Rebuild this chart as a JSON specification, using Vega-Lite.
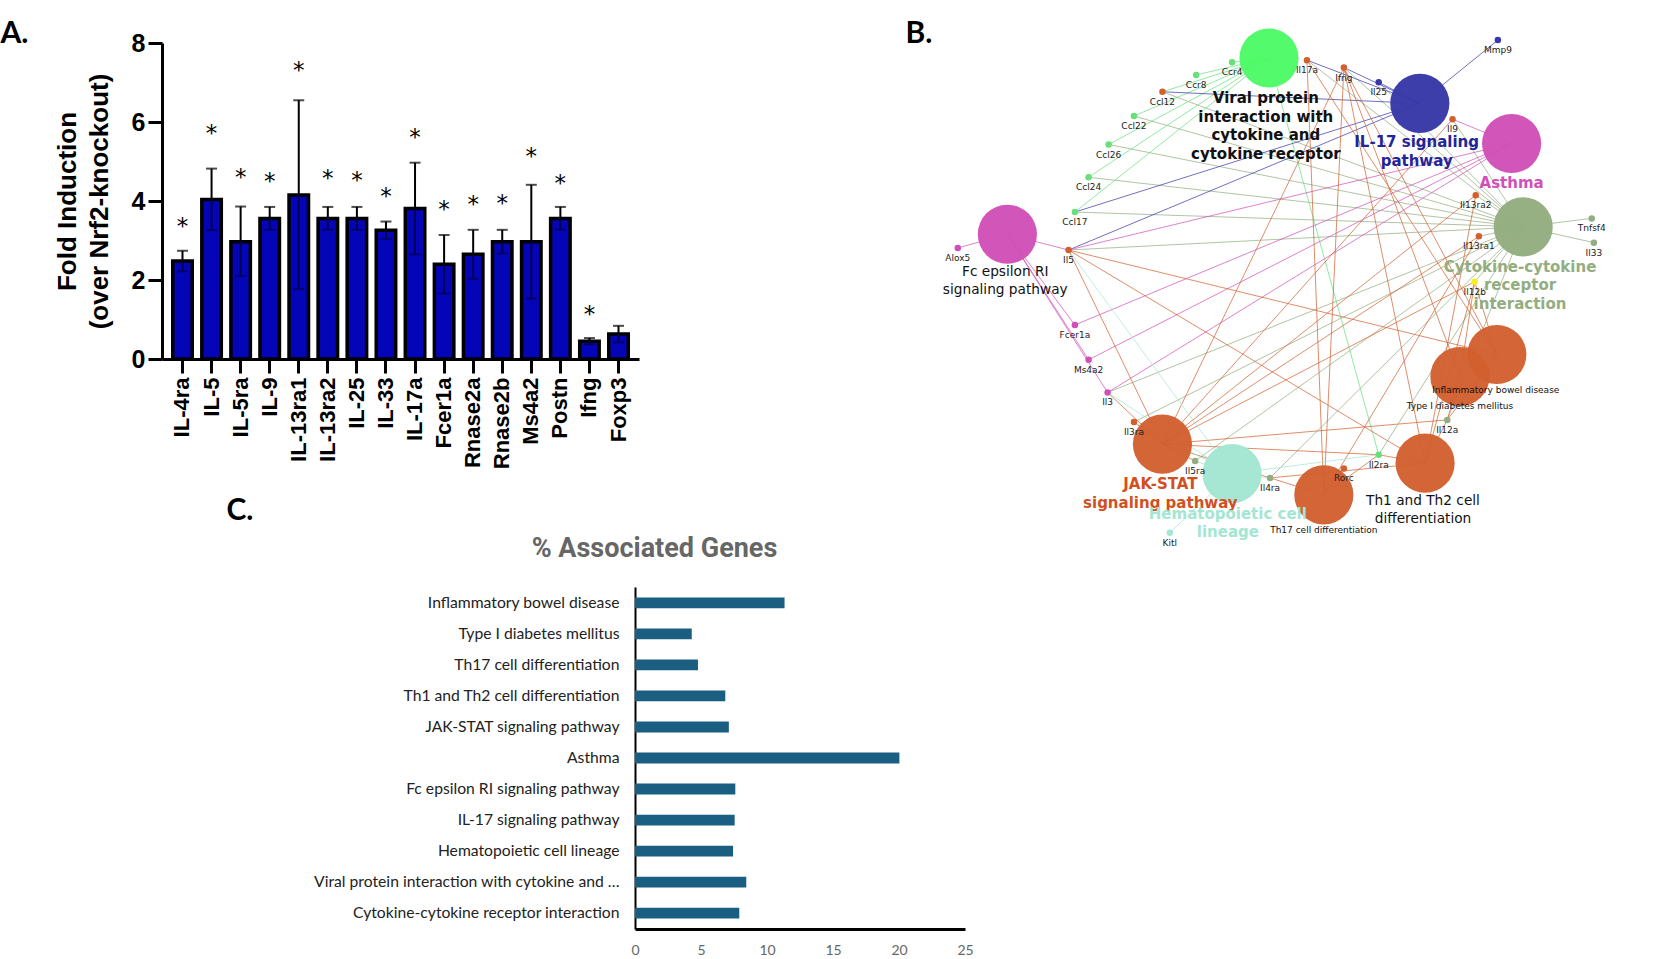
{
"$schema":"https://vega.github.io/schema/vega-lite/v6.json",
"width":1654,"height":959,"autosize":{"type":"none"},"padding":0,"background":"white",
"config":{"view":{"stroke":null},"axis":{"grid":false,"labelOverlap":false},"text":{"lineBreak":"\n"}},
"datasets":{
"genes":[
{"gene":"IL-4ra","value":2.48,"low":2.22,"high":2.74,"star":3.43},
{"gene":"IL-5","value":4.04,"low":3.26,"high":4.82,"star":5.77},
{"gene":"IL-5ra","value":2.97,"low":2.1,"high":3.86,"star":4.67},
{"gene":"IL-9","value":3.56,"low":3.27,"high":3.85,"star":4.56},
{"gene":"IL-13ra1","value":4.15,"low":1.77,"high":6.55,"star":7.37},
{"gene":"IL-13ra2","value":3.56,"low":3.27,"high":3.85,"star":4.63},
{"gene":"IL-25","value":3.56,"low":3.27,"high":3.85,"star":4.57},
{"gene":"IL-33","value":3.26,"low":3.04,"high":3.48,"star":4.18},
{"gene":"IL-17a","value":3.81,"low":2.65,"high":4.97,"star":5.66},
{"gene":"Fcer1a","value":2.4,"low":1.66,"high":3.14,"star":3.85},
{"gene":"Rnase2a","value":2.65,"low":2.03,"high":3.27,"star":3.97},
{"gene":"Rnase2b","value":2.97,"low":2.67,"high":3.27,"star":4.0},
{"gene":"Ms4a2","value":2.97,"low":1.53,"high":4.41,"star":5.18},
{"gene":"Postn","value":3.56,"low":3.27,"high":3.85,"star":4.5},
{"gene":"Ifng","value":0.45,"low":0.37,"high":0.53,"star":1.2},
{"gene":"Foxp3","value":0.63,"low":0.42,"high":0.84,"star":null}
],
"pct":[
{"term":"Inflammatory bowel disease","pct":11.33},
{"term":"Type I diabetes mellitus","pct":4.3},
{"term":"Th17 cell differentiation","pct":4.77},
{"term":"Th1 and Th2 cell differentiation","pct":6.84},
{"term":"JAK-STAT signaling pathway","pct":7.11},
{"term":"Asthma","pct":20.03},
{"term":"Fc epsilon RI signaling pathway","pct":7.6},
{"term":"IL-17 signaling pathway","pct":7.55},
{"term":"Hematopoietic cell lineage","pct":7.43},
{"term":"Viral protein interaction with cytokine and cytokine receptor","pct":8.43},
{"term":"Cytokine-cytokine receptor interaction","pct":7.9}
],
"nodes":[
{"name":"Viral","kind":"term","group":"viral","nx":1203,"ny":55},
{"name":"IL17","kind":"term","group":"il17","nx":1346,"ny":98},
{"name":"Asthma","kind":"term","group":"allergy","nx":1433,"ny":136},
{"name":"Cyto","kind":"term","group":"cyto","nx":1444,"ny":215},
{"name":"IBD","kind":"term","group":"immune","nx":1419,"ny":336},
{"name":"T1D","kind":"term","group":"immune","nx":1384,"ny":357},
{"name":"Th12","kind":"term","group":"immune","nx":1351,"ny":439},
{"name":"Th17","kind":"term","group":"immune","nx":1255,"ny":469},
{"name":"Hema","kind":"term","group":"hema","nx":1168,"ny":449},
{"name":"JAK","kind":"term","group":"immune","nx":1102,"ny":421},
{"name":"Fc","kind":"term","group":"allergy","nx":955,"ny":222},
{"name":"Mmp9","kind":"gene","group":"il17","nx":1420,"ny":38},
{"name":"Il17a","kind":"gene","group":"immune","nx":1239,"ny":57},
{"name":"Ifng","kind":"gene","group":"immune","nx":1274,"ny":64},
{"name":"Il25","kind":"gene","group":"il17","nx":1307,"ny":78},
{"name":"Il9","kind":"gene","group":"immune","nx":1377,"ny":113},
{"name":"Ccr4","kind":"gene","group":"viral2","nx":1168,"ny":59},
{"name":"Ccr8","kind":"gene","group":"viral2","nx":1134,"ny":71},
{"name":"Ccl12","kind":"gene","group":"immune","nx":1102,"ny":87},
{"name":"Ccl22","kind":"gene","group":"viral2","nx":1075,"ny":110},
{"name":"Ccl26","kind":"gene","group":"viral2","nx":1051,"ny":137},
{"name":"Ccl24","kind":"gene","group":"viral2","nx":1032,"ny":168},
{"name":"Ccl17","kind":"gene","group":"viral2","nx":1019,"ny":201},
{"name":"Il13ra2","kind":"gene","group":"immune","nx":1399,"ny":185},
{"name":"Il13ra1","kind":"gene","group":"immune","nx":1402,"ny":224},
{"name":"Tnfsf4","kind":"gene","group":"cyto","nx":1509,"ny":207},
{"name":"Il33","kind":"gene","group":"cyto","nx":1511,"ny":230},
{"name":"Il12b","kind":"gene","group":"yellow","nx":1398,"ny":267},
{"name":"Il5","kind":"gene","group":"immune","nx":1013,"ny":237},
{"name":"Alox5","kind":"gene","group":"allergy","nx":908,"ny":235},
{"name":"Fcer1a","kind":"gene","group":"allergy","nx":1019,"ny":308},
{"name":"Ms4a2","kind":"gene","group":"allergy","nx":1032,"ny":341},
{"name":"Il3","kind":"gene","group":"allergy","nx":1050,"ny":372},
{"name":"Il3ra","kind":"gene","group":"immune","nx":1075,"ny":400},
{"name":"Il12a","kind":"gene","group":"cyto","nx":1372,"ny":398},
{"name":"Il5ra","kind":"gene","group":"cyto","nx":1133,"ny":437},
{"name":"Il2ra","kind":"gene","group":"viral2","nx":1307,"ny":431},
{"name":"Rorc","kind":"gene","group":"immune","nx":1274,"ny":444},
{"name":"Il4ra","kind":"gene","group":"cyto","nx":1204,"ny":453},
{"name":"Kitl","kind":"gene","group":"hema","nx":1109,"ny":505}
],
"termLabels":[
{"text":"Viral protein\ninteraction with\ncytokine and\ncytokine receptor","group":"black","nx":1200,"ny":93,"big":"a"},
{"text":"IL-17 signaling\npathway","group":"navy","nx":1343,"ny":135,"big":"a"},
{"text":"Asthma","group":"allergy","nx":1433,"ny":173,"big":"a"},
{"text":"Cytokine-cytokine\nreceptor\ninteraction","group":"cyto","nx":1441,"ny":253,"big":"a"},
{"text":"Fc epsilon RI\nsignaling pathway","group":"black","nx":953,"ny":258,"big":"b"},
{"text":"Th1 and Th2 cell\ndifferentiation","group":"black","nx":1349,"ny":475,"big":"b"},
{"text":"JAK-STAT\nsignaling pathway","group":"jak","nx":1100,"ny":459,"big":"a"},
{"text":"Hematopoietic cell\nlineage","group":"hema","nx":1164,"ny":487,"big":"a"},
{"text":"Inflammatory bowel disease","group":"black","nx":1418,"ny":370,"big":"c"},
{"text":"Type I diabetes mellitus","group":"black","nx":1384,"ny":385,"big":"c"},
{"text":"Th17 cell differentiation","group":"black","nx":1255,"ny":502,"big":"c"}
],
"edges":[
{"g":"Ccl12","t":"Cyto","group":"cyto"},{"g":"Ccl22","t":"Cyto","group":"cyto"},{"g":"Ccl26","t":"Cyto","group":"cyto"},{"g":"Ccl24","t":"Cyto","group":"cyto"},{"g":"Ccl17","t":"Cyto","group":"cyto"},{"g":"Il5","t":"Cyto","group":"cyto"},{"g":"Il3","t":"Cyto","group":"cyto"},{"g":"Il5ra","t":"Cyto","group":"cyto"},{"g":"Il2ra","t":"Cyto","group":"cyto"},{"g":"Il4ra","t":"Cyto","group":"cyto"},{"g":"Il13ra1","t":"Cyto","group":"cyto"},{"g":"Il13ra2","t":"Cyto","group":"cyto"},{"g":"Tnfsf4","t":"Cyto","group":"cyto"},{"g":"Il33","t":"Cyto","group":"cyto"},{"g":"Il12a","t":"Cyto","group":"cyto"},{"g":"Il12b","t":"Cyto","group":"cyto"},{"g":"Il17a","t":"Cyto","group":"cyto"},{"g":"Ifng","t":"Cyto","group":"cyto"},{"g":"Il25","t":"Cyto","group":"cyto"},{"g":"Il9","t":"Cyto","group":"cyto"},{"g":"Il3ra","t":"Cyto","group":"cyto"},
{"g":"Ccr4","t":"Viral","group":"viral2"},{"g":"Ccr8","t":"Viral","group":"viral2"},{"g":"Ccl12","t":"Viral","group":"viral2"},{"g":"Ccl22","t":"Viral","group":"viral2"},{"g":"Ccl26","t":"Viral","group":"viral2"},{"g":"Ccl24","t":"Viral","group":"viral2"},{"g":"Ccl17","t":"Viral","group":"viral2"},{"g":"Il2ra","t":"Viral","group":"viral2"},
{"g":"Il17a","t":"IL17","group":"il17"},{"g":"Ifng","t":"IL17","group":"il17"},{"g":"Il25","t":"IL17","group":"il17"},{"g":"Ccl12","t":"IL17","group":"il17"},{"g":"Ccl17","t":"IL17","group":"il17"},{"g":"Il5","t":"IL17","group":"il17"},{"g":"Mmp9","t":"IL17","group":"il17"},
{"g":"Il9","t":"Asthma","group":"allergy"},{"g":"Il5","t":"Asthma","group":"allergy"},{"g":"Il3","t":"Asthma","group":"allergy"},{"g":"Ms4a2","t":"Asthma","group":"allergy"},{"g":"Fcer1a","t":"Asthma","group":"allergy"},
{"g":"Alox5","t":"Fc","group":"allergy"},{"g":"Il5","t":"Fc","group":"allergy"},{"g":"Il3","t":"Fc","group":"allergy"},{"g":"Fcer1a","t":"Fc","group":"allergy"},{"g":"Ms4a2","t":"Fc","group":"allergy"},
{"g":"Il3","t":"JAK","group":"immune"},{"g":"Il3ra","t":"JAK","group":"immune"},{"g":"Il5","t":"JAK","group":"immune"},{"g":"Il5ra","t":"JAK","group":"immune"},{"g":"Il4ra","t":"JAK","group":"immune"},{"g":"Il2ra","t":"JAK","group":"immune"},{"g":"Il12a","t":"JAK","group":"immune"},{"g":"Il12b","t":"JAK","group":"immune"},{"g":"Il13ra1","t":"JAK","group":"immune"},{"g":"Il13ra2","t":"JAK","group":"immune"},{"g":"Ifng","t":"JAK","group":"immune"},{"g":"Il9","t":"JAK","group":"immune"},
{"g":"Il5","t":"IBD","group":"immune"},{"g":"Il17a","t":"IBD","group":"immune"},{"g":"Ifng","t":"IBD","group":"immune"},{"g":"Il12a","t":"IBD","group":"immune"},{"g":"Il12b","t":"IBD","group":"immune"},
{"g":"Ifng","t":"T1D","group":"immune"},{"g":"Il12a","t":"T1D","group":"immune"},{"g":"Il12b","t":"T1D","group":"immune"},
{"g":"Ifng","t":"Th12","group":"immune"},{"g":"Il5","t":"Th12","group":"immune"},{"g":"Il4ra","t":"Th12","group":"immune"},{"g":"Il2ra","t":"Th12","group":"immune"},{"g":"Il12a","t":"Th12","group":"immune"},{"g":"Il12b","t":"Th12","group":"immune"},{"g":"Il13ra2","t":"Th12","group":"immune"},
{"g":"Il17a","t":"Th17","group":"immune"},{"g":"Ifng","t":"Th17","group":"immune"},{"g":"Il2ra","t":"Th17","group":"immune"},{"g":"Il4ra","t":"Th17","group":"immune"},{"g":"Rorc","t":"Th17","group":"immune"},{"g":"Il13ra1","t":"Th17","group":"immune"},
{"g":"Il3","t":"Hema","group":"hema"},{"g":"Il3ra","t":"Hema","group":"hema"},{"g":"Il5","t":"Hema","group":"hema"},{"g":"Il5ra","t":"Hema","group":"hema"},{"g":"Il4ra","t":"Hema","group":"hema"},{"g":"Il2ra","t":"Hema","group":"hema"},{"g":"Kitl","t":"Hema","group":"hema"}
]
},
"layer":[
{
"data":{"name":"genes"},
"encoding":{
"x":{"field":"gene","type":"nominal","sort":null,"title":"A.",
"scale":{"type":"band","range":[162,639],"paddingInner":0.33,"paddingOuter":0.37},
"axis":{"orient":"bottom","offset":-600,"domainWidth":3,"domainColor":"black","tickWidth":3,"tickColor":"black","tickSize":14,"labelAngle":-90,"labelAlign":"right","labelBaseline":"middle","labelFont":"Liberation Sans","labelFontWeight":"bold","labelFontSize":22,"labelColor":"black","labelPadding":4,"titleFont":"Lato","titleFontWeight":"bold","titleFontSize":30,"titleColor":"black","titleX":0,"titleY":-326,"titleAlign":"left","titleBaseline":"middle","titleAngle":0}}
},
"layer":[
{"mark":{"type":"bar","fill":"#0505b8","stroke":"black","strokeWidth":3.5},
"encoding":{"y":{"field":"value","type":"quantitative","title":["Fold Induction","(over Nrf2-knockout)"],
"scale":{"domain":[0,8],"range":[359,43],"nice":false,"zero":true},
"axis":{"orient":"left","offset":-162,"values":[0,2,4,6,8],"format":"d","domainWidth":3,"domainColor":"black","tickWidth":3,"tickColor":"black","tickSize":14,"labelFont":"Liberation Sans","labelFontWeight":"bold","labelFontSize":25,"labelColor":"black","labelPadding":3,"titleFont":"Liberation Sans","titleFontWeight":"bold","titleFontSize":26,"titleColor":"black","titleX":-82,"titleY":201,"titleLineHeight":32}}}},
{"mark":{"type":"rule","color":"black","strokeWidth":2},"encoding":{"y":{"field":"value","type":"quantitative"},"y2":{"field":"high"}}},
{"mark":{"type":"rule","color":"#000050","strokeWidth":2},"encoding":{"y":{"field":"low","type":"quantitative"},"y2":{"field":"value"}}},
{"mark":{"type":"tick","color":"black","thickness":2,"size":11},"encoding":{"y":{"field":"high","type":"quantitative"}}},
{"mark":{"type":"tick","color":"#000050","thickness":2,"size":11},"encoding":{"y":{"field":"low","type":"quantitative"}}},
{"transform":[{"filter":"datum.star != null"}],"mark":{"type":"text","text":"*","font":"DejaVu Sans","fontSize":23,"color":"black","dy":3},"encoding":{"y":{"field":"star","type":"quantitative"}}}
]
},
{
"data":{"name":"pct"},
"mark":{"type":"bar","fill":"#1a5e82"},
"encoding":{
"x":{"field":"pct","type":"quantitative","title":"% Associated Genes",
"scale":{"domain":[0,25],"range":[635,965],"nice":false},
"axis":{"orient":"bottom","offset":-30,"values":[0,5,10,15,20,25],"labelFlush":false,"domainWidth":3,"domainColor":"black","ticks":false,"labelFont":"Lato","labelFontSize":14,"labelColor":"#666666","labelPadding":14,"titleFont":"Roboto","titleFontWeight":"bold","titleFontSize":27,"titleColor":"#666666","titleX":654,"titleY":-381,"titleAlign":"center","titleBaseline":"middle"}},
"y":{"field":"term","type":"nominal","sort":null,"title":"C.",
"scale":{"type":"band","range":[587,929],"paddingInner":0.65,"paddingOuter":0.335},
"axis":{"orient":"left","offset":-635,"domainWidth":2,"domainColor":"black","ticks":false,"labelFont":"Lato","labelFontSize":15.7,"labelColor":"#222222","labelPadding":16,"labelLimit":306,"titleFont":"Lato","titleFontWeight":"bold","titleFontSize":30,"titleColor":"black","titleX":-409,"titleY":510,"titleAngle":0,"titleAlign":"left","titleBaseline":"middle"}}
}
},
{
"encoding":{
"x":{"field":"nx","type":"quantitative","title":"B.",
"scale":{"domain":[0,1568],"range":[0,1654],"nice":false,"zero":false},
"axis":{"orient":"top","offset":0,"domain":false,"ticks":false,"labels":false,"titleFont":"Lato","titleFontWeight":"bold","titleFontSize":30,"titleColor":"black","titleX":905,"titleY":33,"titleAlign":"left","titleBaseline":"middle","titleAngle":0}},
"y":{"field":"ny","type":"quantitative",
"scale":{"domain":[0,909],"range":[0,959],"nice":false,"zero":false},"axis":null},
"color":{"field":"group","type":"nominal","legend":null,
"scale":{"domain":["viral","viral2","il17","navy","allergy","cyto","immune","jak","hema","yellow","black"],
"range":["#4dfa66","#66e07a","#3838a8","#24249a","#d14fb8","#93ad80","#d2602f","#d2501f","#a3e6d3","#f5f020","#111111"]}}
},
"layer":[
{"data":{"name":"edges"},
"transform":[
{"lookup":"g","from":{"data":{"name":"nodes"},"key":"name","fields":["nx","ny"]}},
{"lookup":"t","from":{"data":{"name":"nodes"},"key":"name","fields":["nx","ny"]},"as":["tx","ty"]}
],
"mark":{"type":"rule","strokeWidth":0.9,"opacity":0.8},
"encoding":{"x2":{"field":"tx"},"y2":{"field":"ty"}}},
{"data":{"name":"nodes"},"transform":[{"filter":"datum.kind==='term'"}],
"mark":{"type":"point","shape":"circle","filled":true,"size":3500,"opacity":0.97}},
{"data":{"name":"nodes"},"transform":[{"filter":"datum.kind==='gene'"}],
"mark":{"type":"point","shape":"circle","filled":true,"size":42,"opacity":1}},
{"data":{"name":"nodes"},"transform":[{"filter":"datum.kind==='gene'"}],
"mark":{"type":"text","font":"DejaVu Sans","fontSize":9,"dy":10},
"encoding":{"color":{"value":"#222222"},"text":{"field":"name"}}},
{"data":{"name":"termLabels"},"transform":[{"filter":"datum.big==='a'"}],
"mark":{"type":"text","font":"DejaVu Sans","fontWeight":"bold","fontSize":15,"lineHeight":18.5},
"encoding":{"text":{"field":"text"}}},
{"data":{"name":"termLabels"},"transform":[{"filter":"datum.big==='b'"}],
"mark":{"type":"text","font":"DejaVu Sans","fontSize":13.7,"lineHeight":17.5},
"encoding":{"text":{"field":"text"}}},
{"data":{"name":"termLabels"},"transform":[{"filter":"datum.big==='c'"}],
"mark":{"type":"text","font":"DejaVu Sans","fontSize":9},
"encoding":{"text":{"field":"text"}}}
]
}
],
"resolve":{"scale":{"x":"independent","y":"independent"},"axis":{"x":"independent","y":"independent"}}
}
